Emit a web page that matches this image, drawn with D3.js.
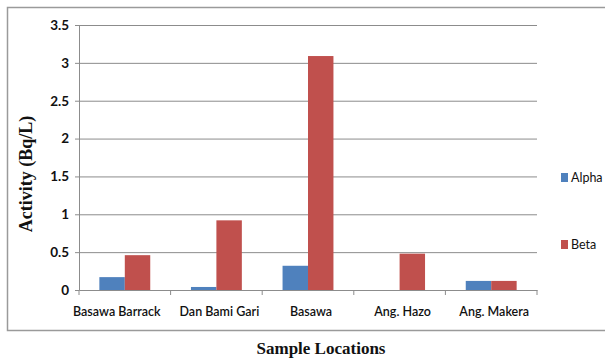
<!DOCTYPE html>
<html>
<head>
<meta charset="utf-8">
<script src="https://cdn.jsdelivr.net/npm/d3@7"></script>
<style>
  body { margin: 0; background: #fff; }
  svg { display: block; }
</style>
</head>
<body>
<svg id="chart" width="605" height="360"></svg>
<script>
// Sample locations and measured activities (Bq/L)
const locations = ["Basawa Barrack", "Dan Bami Gari", "Basawa", "Ang. Hazo", "Ang. Makera"];
const alphaValues = [0.17, 0.04, 0.32, 0.0, 0.12];
const betaValues = [0.46, 0.92, 3.09, 0.48, 0.12];
const seriesNames = ["Alpha", "Beta"];
const yTicks = [0, 0.5, 1, 1.5, 2, 2.5, 3, 3.5];

const colors = { Alpha: "#4F81BD", Beta: "#C0504D" };
const svg = d3.select("#chart");

const plot = { left: 79, right: 537, top: 25, bottom: 290 };

// Outer frame
svg.append("rect")
  .attr("x", 7.5).attr("y", 7.5)
  .attr("width", 605).attr("height", 323)
  .attr("fill", "none").attr("stroke", "#9a9a9a").attr("stroke-width", 1.5);

const x = d3.scaleBand().domain(locations).range([plot.left, plot.right]).paddingInner(0).paddingOuter(0);
const xInner = d3.scaleBand().domain(seriesNames).range([0, x.bandwidth()]).paddingInner(0).paddingOuter(0.8);
const y = d3.scaleLinear().domain([0, 3.5]).range([plot.bottom, plot.top]);

// Gridlines with left tick marks
const yAxis = d3.axisLeft(y).tickValues(yTicks).tickFormat(d3.format("")).tickSize(4).tickPadding(6);
const gy = svg.append("g").attr("transform", `translate(${plot.left},0)`).call(yAxis);
gy.select(".domain").attr("stroke", "#8c8c8c");
gy.selectAll(".tick line").attr("stroke", "#8c8c8c");
gy.selectAll(".tick text")
  .attr("font-family", "Lato, 'Open Sans', sans-serif")
  .attr("font-size", 13.5).attr("font-weight", 700).attr("fill", "#111");
gy.selectAll(".tick").filter(d => d > 0).append("line")
  .attr("x1", 0).attr("x2", plot.right - plot.left)
  .attr("stroke", "#8c8c8c").attr("stroke-width", 1);

// Bars
const rows = locations.map((loc, i) => ({ loc, Alpha: alphaValues[i], Beta: betaValues[i] }));
const groups = svg.append("g").selectAll("g").data(rows).join("g")
  .attr("transform", d => `translate(${x(d.loc)},0)`);
groups.selectAll("rect")
  .data(d => seriesNames.map(s => ({ s, v: d[s] })))
  .join("rect")
  .attr("x", d => xInner(d.s))
  .attr("width", xInner.bandwidth())
  .attr("y", d => y(d.v))
  .attr("height", d => y(0) - y(d.v))
  .attr("fill", d => colors[d.s]);

// Category axis
const xAxis = d3.axisBottom(x).tickSize(0).tickPadding(17);
const gx = svg.append("g").attr("transform", `translate(0,${plot.bottom})`).call(xAxis);
gx.select(".domain").attr("stroke", "#8c8c8c");
gx.selectAll(".tick text")
  .attr("font-family", "Lato, 'Open Sans', sans-serif")
  .attr("font-size", 12.5).attr("font-weight", 600).attr("fill", "#111")
  .attr("dx", (d, i) => i === 0 ? -8 : 3);
// Separators between categories
const bounds = locations.map(l => x(l)).concat([plot.right]);
gx.selectAll(".sep").data(bounds).join("line")
  .attr("class", "sep")
  .attr("x1", d => d).attr("x2", d => d)
  .attr("y1", 0).attr("y2", 5)
  .attr("stroke", "#8c8c8c");

// Legend
const legend = svg.append("g").selectAll("g").data(seriesNames).join("g")
  .attr("transform", (d, i) => `translate(561,${173 + i * 67})`);
legend.append("rect").attr("width", 7).attr("height", 9).attr("fill", d => colors[d]);
legend.append("text")
  .attr("x", 10).attr("y", 9)
  .attr("font-family", "Lato, 'Open Sans', sans-serif")
  .attr("font-size", 12.5).attr("fill", "#111")
  .text(d => d);

// Axis titles
svg.append("text")
  .attr("transform", "translate(32,174) rotate(-90)")
  .attr("text-anchor", "middle")
  .attr("font-family", "'Liberation Serif', 'Times New Roman', serif")
  .attr("font-size", 18).attr("font-weight", 700).attr("fill", "#111")
  .text("Activity (Bq/L)");
svg.append("text")
  .attr("x", 321).attr("y", 354)
  .attr("text-anchor", "middle")
  .attr("font-family", "'Liberation Serif', 'Times New Roman', serif")
  .attr("font-size", 17).attr("font-weight", 700).attr("fill", "#111")
  .text("Sample Locations");
</script>
</body>
</html>
